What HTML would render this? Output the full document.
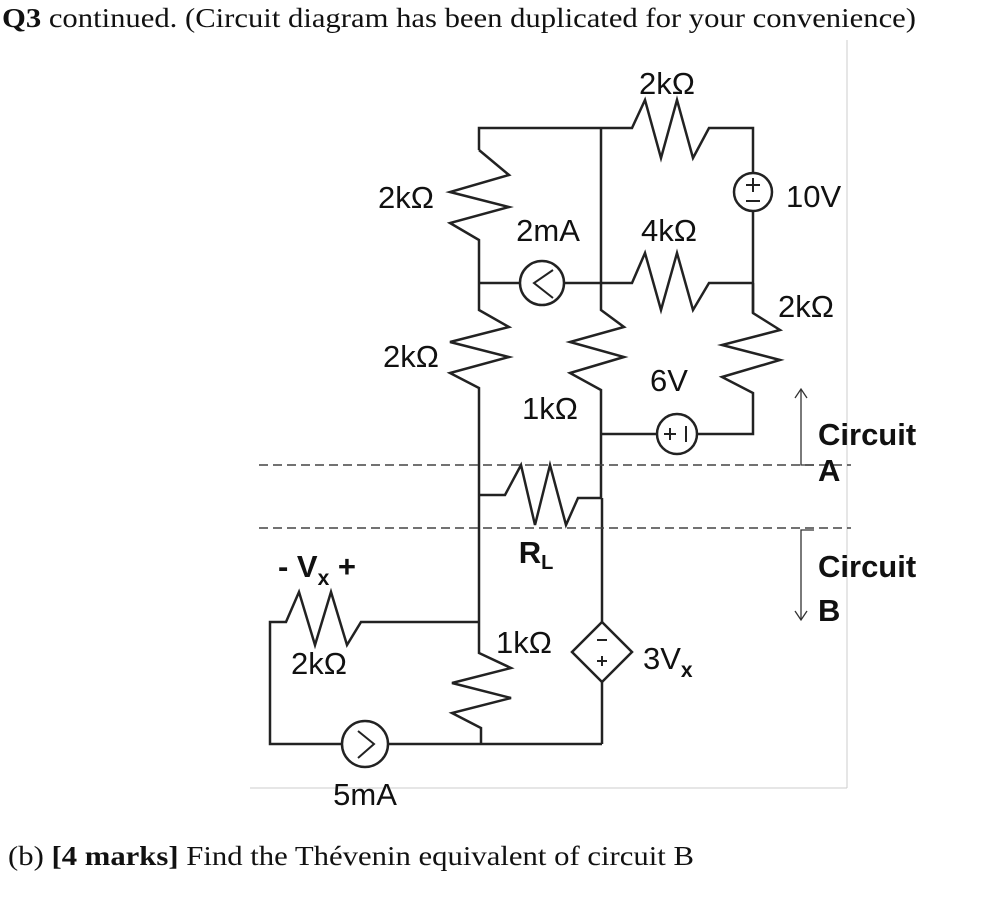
<!DOCTYPE html>
<html><head><meta charset="utf-8"><style>
html,body{margin:0;padding:0;background:#fff;}
svg{display:block;}
.c{font-family:"Liberation Sans",Arial,sans-serif;font-size:31px;fill:#111;}
.b{font-weight:bold;}
.t{font-family:"Liberation Serif","Times New Roman",serif;font-size:27px;fill:#111;}
</style></head><body>
<svg width="994" height="904" viewBox="0 0 994 904" xmlns="http://www.w3.org/2000/svg">
<rect width="994" height="904" fill="#fff"/>
<text class="t" x="2" y="27" textLength="914" lengthAdjust="spacingAndGlyphs"><tspan font-weight="bold">Q3</tspan> continued. (Circuit diagram has been duplicated for your convenience)</text>
<text class="t" x="8" y="865" textLength="686" lengthAdjust="spacingAndGlyphs">(b) <tspan font-weight="bold">[4 marks]</tspan> Find the Thévenin equivalent of circuit B</text>

<line x1="847" y1="40" x2="847" y2="788" stroke="#ccc" stroke-width="1"/>
<line x1="250" y1="788" x2="847" y2="788" stroke="#ccc" stroke-width="1"/>

<g fill="none" stroke="#222" stroke-width="2.5" stroke-linejoin="miter">
<polyline points="479,150 479,128 632,128 645,100 661,158 677,100 693,158 709,128 753,128 753,173"/>
<line x1="753" y1="211" x2="753" y2="313"/>
<polyline points="479,150 509,175 450,192 509,207 450,223 479,240 479,310 509,327 450,342 509,357 450,373 479,388 479,653 511,668 452,683 511,698 452,713 481,728 481,744"/>
<polyline points="601,128 601,310 624,327 570,342 624,357 570,373 601,390 601,498"/>
<polyline points="479,283 520,283"/>
<polyline points="564,283 632,283 645,253 661,310 677,253 693,310 709,283 753,283"/>
<polyline points="753,283 753,313 780,330 722,345 780,360 722,377 753,393 753,434 697,434"/>
<line x1="601" y1="434" x2="657" y2="434"/>
<polyline points="479,495 505,495 521,465 535,525 550,465 566,525 578,498 602,498"/>
<line x1="602" y1="498" x2="602" y2="622"/>
<line x1="602" y1="682" x2="602" y2="744"/>
<polyline points="479,622 361,622 347,645 331,592 315,645 299,592 286,622 270,622 270,744 342,744"/>
<line x1="388" y1="744" x2="602" y2="744"/>
<circle cx="753" cy="192" r="19"/>
<circle cx="542" cy="283" r="22"/>
<circle cx="677" cy="434" r="20"/>
<circle cx="365" cy="744" r="23"/>
<polygon points="602,622 632,652 602,682 572,652"/>
</g>
<g fill="none" stroke="#222" stroke-width="2">
<polyline points="553,270 534,283 553,298"/>
<polyline points="358,731 374,744 358,758"/>
<line x1="746" y1="185" x2="760" y2="185"/><line x1="753" y1="178" x2="753" y2="192"/>
<line x1="746" y1="201" x2="760" y2="201"/>
<line x1="664" y1="434" x2="676" y2="434"/><line x1="670" y1="428" x2="670" y2="440"/>
<line x1="686" y1="426" x2="686" y2="442"/>
<line x1="597" y1="640" x2="607" y2="640"/>
<line x1="597" y1="661" x2="607" y2="661"/><line x1="602" y1="656" x2="602" y2="666"/>
</g>
<g stroke="#444" stroke-width="1.5" stroke-dasharray="9,5">
<line x1="259" y1="465" x2="851" y2="465"/>
<line x1="259" y1="528" x2="851" y2="528"/>
</g>
<g stroke="#333" stroke-width="1.3" fill="none">
<polyline points="801,390 801,465 814,465"/>
<polyline points="795,398 801,389 807,398"/>
<polyline points="814,530 801,530 801,620"/>
<polyline points="795,611 801,620 807,611"/>
</g>
<text class="c" x="667" y="94" text-anchor="middle">2kΩ</text>
<text class="c" x="786" y="207">10V</text>
<text class="c" x="406" y="208" text-anchor="middle">2kΩ</text>
<text class="c" x="548" y="241" text-anchor="middle">2mA</text>
<text class="c" x="669" y="241" text-anchor="middle">4kΩ</text>
<text class="c" x="806" y="317" text-anchor="middle">2kΩ</text>
<text class="c" x="411" y="367" text-anchor="middle">2kΩ</text>
<text class="c" x="669" y="391" text-anchor="middle">6V</text>
<text class="c" x="550" y="419" text-anchor="middle">1kΩ</text>
<text class="c b" x="818" y="445">Circuit</text>
<text class="c b" x="818" y="481">A</text>
<text class="c b" x="536" y="563" text-anchor="middle">R<tspan font-size="20" dy="6">L</tspan></text>
<text class="c b" x="818" y="577">Circuit</text>
<text class="c b" x="818" y="621">B</text>
<text class="c b" x="278" y="577">-  V<tspan font-size="21" dy="8">x</tspan><tspan dy="-8">  +</tspan></text>
<text class="c" x="524" y="653" text-anchor="middle">1kΩ</text>
<text class="c" x="643" y="669">3V<tspan class="b" font-size="21" dy="8">x</tspan></text>
<text class="c" x="319" y="674" text-anchor="middle">2kΩ</text>
<text class="c" x="365" y="805" text-anchor="middle">5mA</text>
</svg>
</body></html>
